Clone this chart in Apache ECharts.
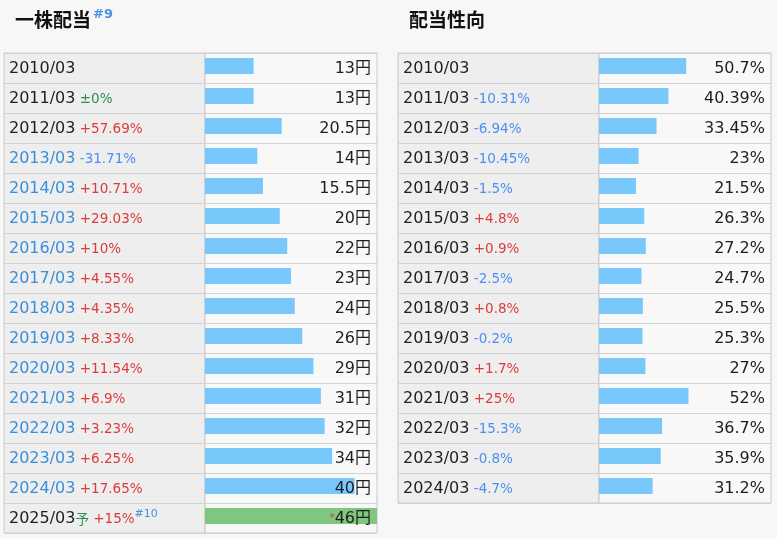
<!DOCTYPE html>
<html>
<head>
<meta charset="utf-8">
<script src="https://cdn.jsdelivr.net/npm/echarts@6/dist/echarts.min.js"></script>
<style>
  html, body { margin: 0; background: #f7f7f7; }
  #chart { width: 777px; height: 539px; }
</style>
</head>
<body>
<div id="chart"></div>
<script>
// 一株配当
const dpsYears = ['2010/03', '2011/03', '2012/03', '2013/03', '2014/03', '2015/03', '2016/03', '2017/03',
  '2018/03', '2019/03', '2020/03', '2021/03', '2022/03', '2023/03', '2024/03', '2025/03予']
const dpsValues = [13, 13, 20.5, 14, 15.5, 20, 22, 23, 24, 26, 29, 31, 32, 34, 40, 46]
const dpsChanges = ['', '±0%', '+57.69%', '-31.71%', '+10.71%', '+29.03%', '+10%', '+4.55%',
  '+4.35%', '+8.33%', '+11.54%', '+6.9%', '+3.23%', '+6.25%', '+17.65%', '+15%']
const dpsLinked = [0, 0, 0, 1, 1, 1, 1, 1, 1, 1, 1, 1, 1, 1, 1, 0]
const dpsNotes = ['', '', '', '', '', '', '', '', '', '', '', '', '', '', '', '#10']

// 配当性向
const payoutYears = ['2010/03', '2011/03', '2012/03', '2013/03', '2014/03', '2015/03', '2016/03', '2017/03',
  '2018/03', '2019/03', '2020/03', '2021/03', '2022/03', '2023/03', '2024/03']
const payoutValues = [50.7, 40.39, 33.45, 23, 21.5, 26.3, 27.2, 24.7, 25.5, 25.3, 27, 52, 36.7, 35.9, 31.2]
const payoutChanges = ['', '-10.31%', '-6.94%', '-10.45%', '-1.5%', '+4.8%', '+0.9%', '-2.5%',
  '+0.8%', '-0.2%', '+1.7%', '+25%', '-15.3%', '-0.8%', '-4.7%']

const FONT = "'DejaVu Sans', 'Noto Sans CJK JP', sans-serif"
const ROW_TOP = 53
const ROW_H = 30

const rich = {
  yk: { color: '#1e1e1e', fontSize: 16, fontFamily: FONT, padding: [2, 0, 0, 0] },
  yb: { color: '#3a8edb', fontSize: 16, fontFamily: FONT, padding: [2, 0, 0, 0] },
  up: { color: '#dc3b3b', fontSize: 13.5, fontFamily: FONT, verticalAlign: 'bottom', padding: [0, 0, 1, 0] },
  dn: { color: '#4a8ff2', fontSize: 13.5, fontFamily: FONT, verticalAlign: 'bottom', padding: [0, 0, 1, 0] },
  eq: { color: '#2e8b57', fontSize: 13.5, fontFamily: FONT, verticalAlign: 'bottom', padding: [0, 0, 1, 0] },
  yo: { color: '#2e8b57', fontSize: 13.5, fontFamily: "'Noto Sans CJK JP'", verticalAlign: 'bottom', padding: [0, 0, 1, 0] },
  sup: { color: '#4a90e2', fontSize: 11, fontFamily: FONT, verticalAlign: 'top' },
  v: { color: '#1e1e1e', fontSize: 16, fontFamily: FONT, padding: [2, 0, 0, 0] },
  star: { color: '#dc3b3b', fontSize: 11, fontFamily: FONT }
}

function changeKey(c) {
  if (c[0] === '+') return 'up'
  if (c[0] === '-') return 'dn'
  return 'eq'
}

function yearLabel(year, change, linked, note) {
  let s = ''
  if (year.endsWith('予')) {
    s += `{${linked ? 'yb' : 'yk'}|${year.slice(0, -1)}}{yo|予}`
  } else {
    s += `{${linked ? 'yb' : 'yk'}|${year}}`
  }
  if (change) s += `{${changeKey(change)}| ${change}}`
  if (note) s += `{sup|${note}}`
  return s
}

function hiddenX(gridIndex, max) {
  return { type: 'value', gridIndex, min: 0, max, show: false }
}

function labelAxis(gridIndex, data, formatter, position, margin) {
  return {
    type: 'category',
    gridIndex,
    data,
    inverse: true,
    position,
    z: 5,
    axisLine: { show: false },
    axisTick: { show: false },
    splitLine: { show: true, interval: 0, lineStyle: { color: '#d2d2d2', width: 1 } },
    axisLabel: { inside: true, interval: 0, margin, formatter, rich }
  }
}

const chart = echarts.init(document.getElementById('chart'))

const titleRich = {
  t: { fontSize: 19, fontWeight: 'bold', color: '#111', fontFamily: "'Noto Sans CJK JP'", lineHeight: 28 },
  s: { fontSize: 13, color: '#4a90e2', fontFamily: FONT, verticalAlign: 'top', padding: [2, 0, 0, 2] }
}

chart.setOption({
  animation: false,
  backgroundColor: '#f7f7f7',
  title: [
    { left: 10, top: 1, text: '{t|一株配当}{s|#9}', textStyle: { rich: titleRich } },
    { left: 404, top: 1, text: '{t|配当性向}', textStyle: { rich: titleRich } }
  ],
  grid: [
    { left: 4, top: ROW_TOP, width: 201, height: ROW_H * dpsYears.length, show: true,
      backgroundColor: '#eeeeee', borderColor: '#c8c8c8', borderWidth: 1 },
    { left: 205, top: ROW_TOP, width: 172, height: ROW_H * dpsYears.length, show: true,
      backgroundColor: '#f8f8f8', borderColor: '#c8c8c8', borderWidth: 1 },
    { left: 398, top: ROW_TOP, width: 201, height: ROW_H * payoutYears.length, show: true,
      backgroundColor: '#eeeeee', borderColor: '#c8c8c8', borderWidth: 1 },
    { left: 599, top: ROW_TOP, width: 172, height: ROW_H * payoutYears.length, show: true,
      backgroundColor: '#f8f8f8', borderColor: '#c8c8c8', borderWidth: 1 }
  ],
  xAxis: [hiddenX(0, 1), hiddenX(1, 46), hiddenX(2, 1), hiddenX(3, 100)],
  yAxis: [
    labelAxis(0, dpsYears, (v, i) => yearLabel(v, dpsChanges[i], dpsLinked[i], dpsNotes[i]), 'left', 5),
    labelAxis(1, dpsYears, () => '', 'left', 0),
    Object.assign(labelAxis(1, dpsYears, (v, i) =>
      (dpsNotes[i] ? '{star|*}' : '') + `{v|${dpsValues[i]}円}`, 'right', 6), { splitLine: { show: false } }),
    labelAxis(2, payoutYears, (v, i) => yearLabel(v, payoutChanges[i], 0, ''), 'left', 5),
    labelAxis(3, payoutYears, () => '', 'left', 0),
    Object.assign(labelAxis(3, payoutYears, (v, i) => `{v|${payoutValues[i]}%}`, 'right', 6),
      { splitLine: { show: false } })
  ],
  series: [
    {
      type: 'bar', xAxisIndex: 1, yAxisIndex: 1, barWidth: 16, barGap: '-75%',
      data: dpsValues.map((v, i) => ({
        value: v,
        itemStyle: { color: dpsNotes[i] ? '#7fc77f' : '#78c8fc' }
      }))
    },
    { type: 'bar', xAxisIndex: 1, yAxisIndex: 1, barWidth: 16, data: [] },
    {
      type: 'bar', xAxisIndex: 3, yAxisIndex: 4, barWidth: 16, barGap: '-75%',
      itemStyle: { color: '#78c8fc' },
      data: payoutValues
    },
    { type: 'bar', xAxisIndex: 3, yAxisIndex: 4, barWidth: 16, data: [] }
  ]
})
</script>
</body>
</html>
